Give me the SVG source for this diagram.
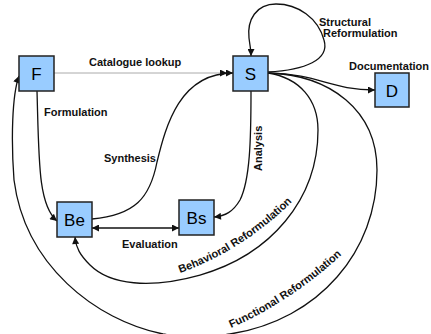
<svg xmlns="http://www.w3.org/2000/svg" width="431" height="334" viewBox="0 0 431 334">
  <style>
    .box { fill: #99ccff; stroke: #222; stroke-width: 1.5; }
    .nl { font-family: "Liberation Sans", Arial, sans-serif; font-size: 17px; fill: #000; text-anchor: middle; }
    .lbl { font-family: "Liberation Sans", Arial, sans-serif; font-size: 11px; font-weight: bold; fill: #111; }
    .c { fill: none; stroke: #111; stroke-width: 1.3; }
    .g { fill: none; stroke: #aaa; stroke-width: 1; }
  </style>
  <defs>
    <marker id="ah" viewBox="0 0 10 10" refX="10" refY="5" markerWidth="8" markerHeight="7" markerUnits="userSpaceOnUse" orient="auto-start-reverse">
      <path d="M0,0 L10,5 L0,10 z" fill="#111"/>
    </marker>
    <path id="tpB" d="M180,273 Q245,250 298,196"/>
    <path id="tpF" d="M231,328 Q295,300 350,247"/>
  </defs>
  <rect width="431" height="334" fill="#fff"/>
  <g id="connectors">
    <path class="g" d="M54,73 L227,73" marker-end="url(#ah)"/>
    <path class="c" d="M92,219 C135,215 150,198 157,162 C166,125 180,73 233,73" marker-end="url(#ah)"/>
    <path class="c" d="M37,91 C39,160 38,205 57,221" marker-end="url(#ah)"/>
    <path class="c" d="M268,72 C305,70 330,60 324,40 C318,18 298,4 276,4 C256,4 247,20 249,38 C250,46 251,50 251,56" marker-end="url(#ah)"/>
    <path class="c" d="M268,73 C320,74 330,90 375,90" marker-end="url(#ah)"/>
    <path class="c" d="M251,91 C251,140 250,180 240,200 C233,212 225,216 214,217" marker-end="url(#ah)"/>
    <path class="c" d="M268,73 C300,78 318,100 318,130 C318,200 270,255 200,275 C150,289 110,285 90,265 C80,255 76,248 75,237" marker-end="url(#ah)"/>
    <path class="c" d="M268,73 C330,75 377,110 377,170 C377,250 320,320 230,334 C205,338 185,338 163,334 C95,320 25,265 14,180 C11,140 12,95 19,76" marker-end="url(#ah)"/>
    <path class="c" d="M92,228 L179,228" marker-start="url(#ah)" marker-end="url(#ah)"/>
  </g>
  <g id="labels">
    <text class="lbl" x="89" y="66">Catalogue lookup</text>
    <text class="lbl" x="44" y="116">Formulation</text>
    <text class="lbl" x="104" y="162">Synthesis</text>
    <text class="lbl" x="319" y="26">Structural</text>
    <text class="lbl" x="323" y="37">Reformulation</text>
    <text class="lbl" x="349" y="70">Documentation</text>
    <text class="lbl" x="122" y="248">Evaluation</text>
    <text class="lbl" transform="translate(262,171) rotate(-90)">Analysis</text>
    <text class="lbl"><textPath href="#tpB">Behavioral Reformulation</textPath></text>
    <text class="lbl"><textPath href="#tpF">Functional Reformulation</textPath></text>
  </g>
  <g id="node-F"><rect class="box" x="19" y="56" width="35" height="35"/><text class="nl" x="36.5" y="80">F</text></g>
  <g id="node-S"><rect class="box" x="233" y="56" width="35" height="35"/><text class="nl" x="250.5" y="80">S</text></g>
  <g id="node-D"><rect class="box" x="375" y="73" width="34" height="34"/><text class="nl" x="392" y="96.5">D</text></g>
  <g id="node-Be"><rect class="box" x="57" y="202" width="35" height="35"/><text class="nl" x="74.5" y="226">Be</text></g>
  <g id="node-Bs"><rect class="box" x="179" y="200" width="35" height="35"/><text class="nl" x="196.5" y="224">Bs</text></g>
</svg>
